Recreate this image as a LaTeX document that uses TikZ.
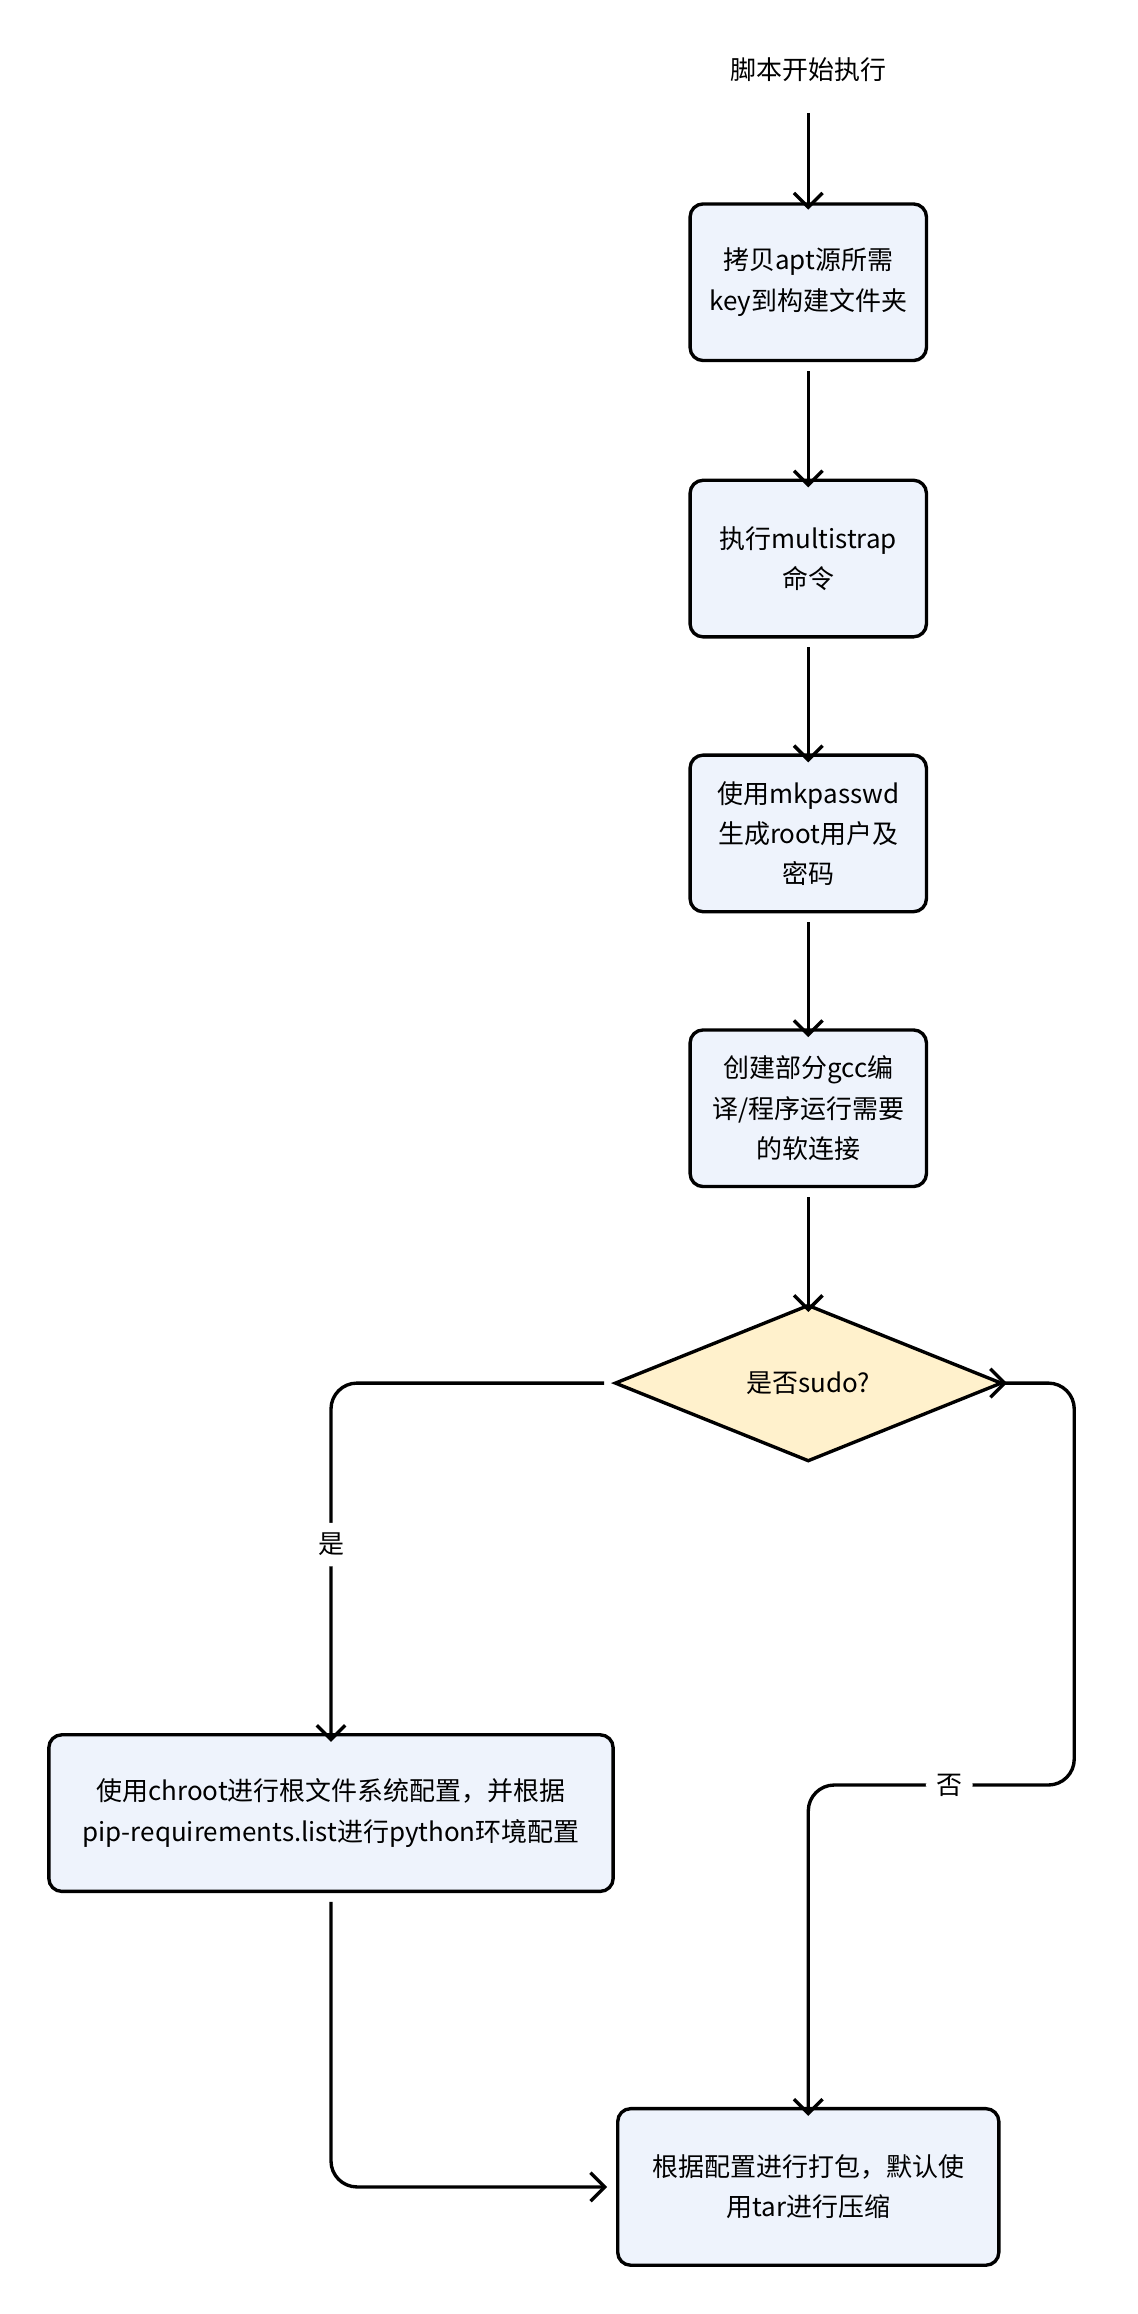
\documentclass[tikz,border=0pt]{standalone}
\usepackage{fontspec}
\setmainfont{Noto Sans CJK SC}
\usetikzlibrary{shapes.geometric,arrows.meta}
\definecolor{boxfill}{HTML}{EEF3FC}
\definecolor{decfill}{HTML}{FFF1CC}
\tikzset{stepbox/.style={rectangle,rounded corners=5pt,draw=black,line width=1.3pt,fill=boxfill,minimum width=3.2cm,minimum height=2.12cm,align=center,font=\fontsize{10}{15.5}\selectfont},
  flow/.style={->,>={Straight Barb[length=5.5pt,width=11pt]},line width=1.3pt,rounded corners=10pt}}
\begin{document}
\begin{tikzpicture}[x=0.02cm,y=-0.02cm,font=\fontsize{10}{15.5}\selectfont]
\useasboundingbox (0,0) rectangle (770,1566);

\node (start) at (547,47) {脚本开始执行};
\node[stepbox] (key) at (547,191) {拷贝apt源所需\\key到构建文件夹};
\node[stepbox] (ms) at (547,378) {执行multistrap\\命令};
\node[stepbox] (pw) at (547,564) {使用mkpasswd\\生成root用户及\\密码};
\node[stepbox] (ln) at (547,750) {创建部分gcc编\\译/程序运行需要\\的软连接};
\node[diamond,draw,line width=1.3pt,fill=decfill,aspect=2.47,minimum width=5.24cm,minimum height=2.12cm,inner sep=0pt] (sudo) at (547,936) {是否sudo?};
\node[stepbox,minimum width=7.64cm] (chroot) at (224,1227) {使用chroot进行根文件系统配置，并根据\\pip-requirements.list进行python环境配置};
\node[stepbox,minimum width=5.16cm] (tar) at (547,1480) {根据配置进行打包，默认使\\用tar进行压缩};

\coordinate (yes) at (224,936);
\coordinate (noa) at (727,936);
\coordinate (nob) at (727,1208);
\coordinate (noc) at (547,1208);

\draw[flow] ([yshift=-0.3cm]start.south) -- ([yshift=-0.1cm]key.north);
\draw[flow] ([yshift=-0.12cm]key.south) -- ([yshift=-0.12cm]ms.north);
\draw[flow] ([yshift=-0.12cm]ms.south) -- ([yshift=-0.12cm]pw.north);
\draw[flow] ([yshift=-0.12cm]pw.south) -- ([yshift=-0.12cm]ln.north);
\draw[flow] ([yshift=-0.12cm]ln.south) -- ([yshift=-0.12cm]sudo.north);
\draw[flow] ([xshift=-0.12cm]sudo.west) -- (yes) -- node[fill=white,inner sep=4pt,pos=0.45]{是} ([yshift=-0.12cm]chroot.north);
\draw[flow,arrows={Straight Barb[reversed,length=5.5pt,width=11pt]-Straight Barb[length=5.5pt,width=11pt]}] ([xshift=-0.2cm]sudo.east) -- (noa) -- (nob) -- node[fill=white,inner sep=4pt,pos=0.47]{否} (noc) -- ([yshift=-0.12cm]tar.north);
\draw[flow] ([yshift=-0.12cm]chroot.south) |- ([xshift=-0.12cm]tar.west);
\end{tikzpicture}
\end{document}
